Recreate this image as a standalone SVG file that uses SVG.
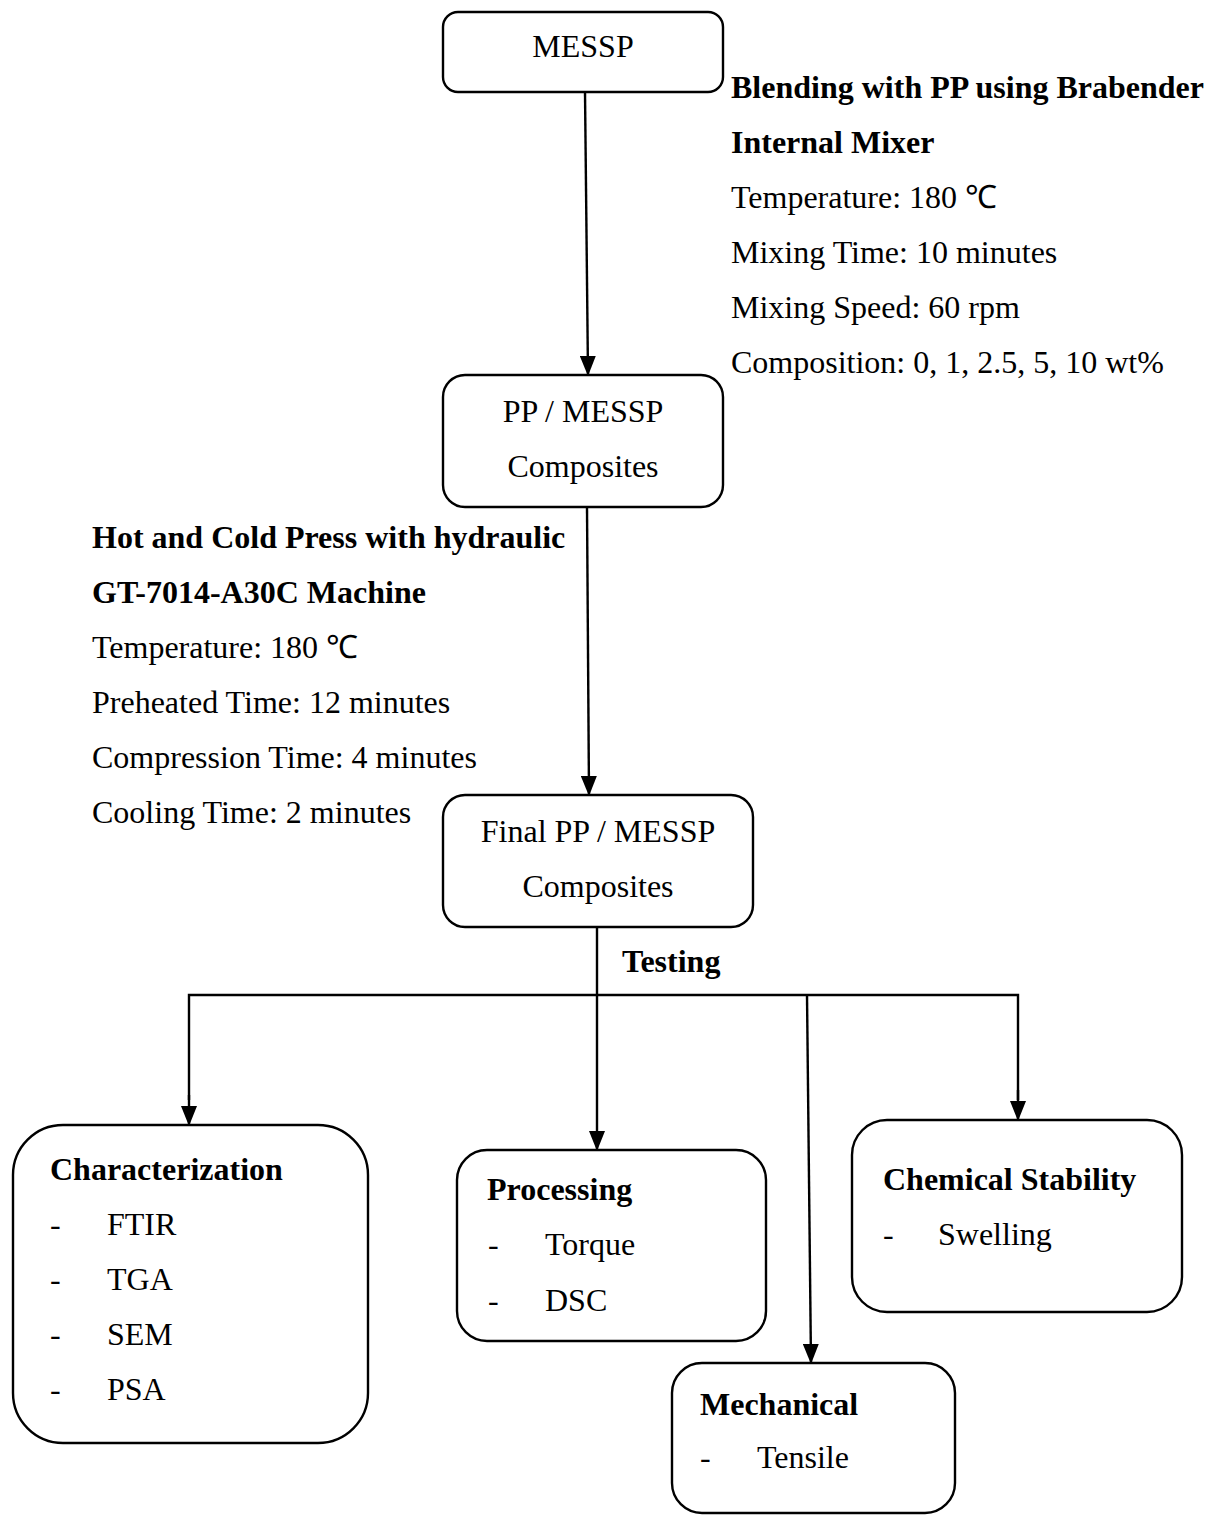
<svg xmlns="http://www.w3.org/2000/svg" width="1208" height="1515" viewBox="0 0 1208 1515">
<style>
text { font-family: "Liberation Serif", "Times New Roman", serif; font-size: 32px; fill: #000; }
.b { font-weight: bold; }
.box { fill: #fff; stroke: #000; stroke-width: 2.4; }
.ln { stroke: #000; stroke-width: 2.4; fill: none; }
</style>
<defs>
<marker id="ah" viewBox="0 0 20 16" refX="19" refY="8" markerWidth="20" markerHeight="16" markerUnits="userSpaceOnUse" orient="auto">
<path d="M0,0 L20,8 L0,16 Z" fill="#000"/>
</marker>
</defs>
<rect width="1208" height="1515" fill="#fff"/>
<g id="connectors">
<line class="ln" x1="585" y1="92" x2="588" y2="375" marker-end="url(#ah)"/>
<line class="ln" x1="587" y1="507" x2="589" y2="795" marker-end="url(#ah)"/>
<line class="ln" x1="597" y1="927" x2="597" y2="1150" marker-end="url(#ah)"/>
<polyline class="ln" points="189,1100 189,995 1018,995 1018,1100"/>
<line class="ln" x1="189" y1="1095" x2="189" y2="1125" marker-end="url(#ah)"/>
<line class="ln" x1="1018" y1="1090" x2="1018" y2="1120" marker-end="url(#ah)"/>
<line class="ln" x1="807" y1="995" x2="811" y2="1363" marker-end="url(#ah)"/>
</g>
<g id="messp">
<rect class="box" x="443" y="12" width="280" height="80" rx="15"/>
<text x="583" y="57" text-anchor="middle">MESSP</text>
</g>
<g id="blending-label">
<text class="b" x="731" y="98">Blending with PP using Brabender</text>
<text class="b" x="731" y="153">Internal Mixer</text>
<text x="731" y="208">Temperature: 180 ℃</text>
<text x="731" y="263">Mixing Time: 10 minutes</text>
<text x="731" y="318">Mixing Speed: 60 rpm</text>
<text x="731" y="373">Composition: 0, 1, 2.5, 5, 10 wt%</text>
</g>
<g id="pp-messp">
<rect class="box" x="443" y="375" width="280" height="132" rx="22"/>
<text x="583" y="422" text-anchor="middle">PP / MESSP</text>
<text x="583" y="477" text-anchor="middle">Composites</text>
</g>
<g id="press-label">
<text class="b" x="92" y="548">Hot and Cold Press with hydraulic</text>
<text class="b" x="92" y="603">GT-7014-A30C Machine</text>
<text x="92" y="658">Temperature: 180 ℃</text>
<text x="92" y="713">Preheated Time: 12 minutes</text>
<text x="92" y="768">Compression Time: 4 minutes</text>
<text x="92" y="823">Cooling Time: 2 minutes</text>
</g>
<g id="final">
<rect class="box" x="443" y="795" width="310" height="132" rx="22"/>
<text x="598" y="842" text-anchor="middle">Final PP / MESSP</text>
<text x="598" y="897" text-anchor="middle">Composites</text>
</g>
<text class="b" x="622" y="972">Testing</text>
<g id="characterization">
<rect class="box" x="13" y="1125" width="355" height="318" rx="50"/>
<text class="b" x="50" y="1180">Characterization</text>
<text x="50" y="1235">-</text><text x="107" y="1235">FTIR</text>
<text x="50" y="1290">-</text><text x="107" y="1290">TGA</text>
<text x="50" y="1345">-</text><text x="107" y="1345">SEM</text>
<text x="50" y="1400">-</text><text x="107" y="1400">PSA</text>
</g>
<g id="processing">
<rect class="box" x="457" y="1150" width="309" height="191" rx="30"/>
<text class="b" x="487" y="1200">Processing</text>
<text x="488" y="1255">-</text><text x="545" y="1255">Torque</text>
<text x="488" y="1311">-</text><text x="545" y="1311">DSC</text>
</g>
<g id="chemical">
<rect class="box" x="852" y="1120" width="330" height="192" rx="35"/>
<text class="b" x="883" y="1190">Chemical Stability</text>
<text x="883" y="1245">-</text><text x="938" y="1245">Swelling</text>
</g>
<g id="mechanical">
<rect class="box" x="672" y="1363" width="283" height="150" rx="30"/>
<text class="b" x="700" y="1415">Mechanical</text>
<text x="700" y="1468">-</text><text x="757" y="1468">Tensile</text>
</g>
</svg>
